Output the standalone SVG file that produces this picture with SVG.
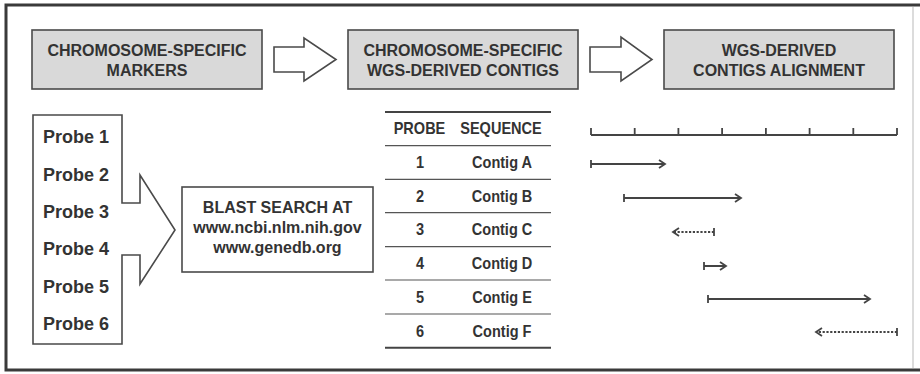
<svg xmlns="http://www.w3.org/2000/svg" width="920" height="374" viewBox="0 0 920 374">
<style>
.frame{fill:none;stroke:#3a3a3a;stroke-width:3}
.hbox{fill:#d9d9d9;stroke:#4a4a4a;stroke-width:1.6}
.wbox{fill:#fff;stroke:#4a4a4a;stroke-width:1.6}
.t{font-family:"Liberation Sans",Arial,sans-serif;font-weight:bold;fill:#333;text-anchor:middle}
.h{font-size:16px}
.p{font-size:18px;text-anchor:start}
.b{font-size:16px}
.tb{font-size:16.5px}
.rule{stroke:#555;stroke-width:1.2}
.rule2{stroke:#444;stroke-width:2}
.ln{fill:none;stroke:#444;stroke-width:1.8}
.dash{fill:none;stroke:#444;stroke-width:1.8;stroke-dasharray:2.2 1.6}
.head{fill:none;stroke:#444;stroke-width:1.8;stroke-linejoin:miter}
</style>
<rect x="0" y="0" width="920" height="374" fill="#fff"/>
<path class="frame" d="M920,5 H6 V370 H920"/>
<line x1="913" y1="7" x2="913" y2="368" stroke="#d0d0d0" stroke-width="1.5"/>

<g id="markers">
<rect class="hbox" x="32" y="30" width="230" height="59"/>
<text class="t h" x="147" y="56">CHROMOSOME-SPECIFIC</text>
<text class="t h" x="147" y="76">MARKERS</text>
</g>
<g id="contigs">
<rect class="hbox" x="348" y="30" width="230" height="59"/>
<text class="t h" x="463" y="56">CHROMOSOME-SPECIFIC</text>
<text class="t h" x="463" y="76">WGS-DERIVED CONTIGS</text>
</g>
<g id="alignment-title">
<rect class="hbox" x="664" y="30" width="230" height="59"/>
<text class="t h" x="779" y="56">WGS-DERIVED</text>
<text class="t h" x="779" y="76">CONTIGS ALIGNMENT</text>
</g>

<g id="connectors">
<path class="wbox" d="M274,47 H304 V38 L336,59.5 L304,81 V72 H274 Z"/>
<path class="wbox" d="M590,47 H621 V37 L652,59.5 L621,81 V72 H590 Z"/>
</g>

<g id="probes">
<path class="wbox" d="M122,203 V115 H33 V344 H122 V255 H140 V284 L175,230 L140,175 V203 Z"/>
<text class="t p" x="43" y="143">Probe 1</text>
<text class="t p" x="43" y="180.5">Probe 2</text>
<text class="t p" x="43" y="218">Probe 3</text>
<text class="t p" x="43" y="255">Probe 4</text>
<text class="t p" x="43" y="292.5">Probe 5</text>
<text class="t p" x="43" y="330">Probe 6</text>
</g>

<g id="blast">
<rect class="wbox" x="182" y="187" width="191" height="85"/>
<text class="t b" x="277.5" y="213">BLAST SEARCH AT</text>
<text class="t b" x="277.5" y="233">www.ncbi.nlm.nih.gov</text>
<text class="t b" x="277.5" y="253">www.genedb.org</text>
</g>

<g id="table">
<line class="rule2" x1="385" y1="112" x2="551" y2="112"/>
<line class="rule" x1="385" y1="145.7" x2="551" y2="145.7"/>
<line class="rule" x1="385" y1="179.3" x2="551" y2="179.3"/>
<line class="rule" x1="385" y1="212.7" x2="551" y2="212.7"/>
<line class="rule" x1="385" y1="246.7" x2="551" y2="246.7"/>
<line class="rule" x1="385" y1="280" x2="551" y2="280"/>
<line class="rule" x1="385" y1="314" x2="551" y2="314"/>
<line class="rule2" x1="385" y1="347.7" x2="551" y2="347.7"/>
<g transform="scale(0.88 1)">
<text class="t tb" x="476.7" y="134.5">PROBE</text>
<text class="t tb" x="569.3" y="134.5">SEQUENCE</text>
<text class="t tb" x="477.3" y="168.5">1</text>
<text class="t tb" x="570.5" y="168.5">Contig A</text>
<text class="t tb" x="477.3" y="202">2</text>
<text class="t tb" x="570.5" y="202">Contig B</text>
<text class="t tb" x="477.3" y="235.5">3</text>
<text class="t tb" x="570.5" y="235.5">Contig C</text>
<text class="t tb" x="477.3" y="269.5">4</text>
<text class="t tb" x="570.5" y="269.5">Contig D</text>
<text class="t tb" x="477.3" y="303">5</text>
<text class="t tb" x="570.5" y="303">Contig E</text>
<text class="t tb" x="477.3" y="337">6</text>
<text class="t tb" x="570.5" y="337">Contig F</text>
</g>
</g>

<g id="ruler">
<path class="ln" d="M591,135 H897 M591,128 V135 M634.7,128 V135 M678.4,128 V135 M722.1,128 V135 M765.9,128 V135 M809.6,128 V135 M853.3,128 V135 M897,128 V135"/>
</g>

<g id="contig-arrows">
<path class="ln" d="M591,164 H665 M591,160 V168"/>
<polyline class="head" points="659,160 665,164 659,168"/>
<path class="ln" d="M624,198 H741 M624,194 V202"/>
<polyline class="head" points="735,194 741,198 735,202"/>
<path class="dash" d="M714,232 H674"/>
<path class="ln" d="M714,228 V236"/>
<polyline class="head" points="679,228 673,232 679,236"/>
<path class="ln" d="M704,266 H726 M704,262 V270"/>
<polyline class="head" points="720,262 726,266 720,270"/>
<path class="ln" d="M708,299 H870 M708,295 V303"/>
<polyline class="head" points="864,295 870,299 864,303"/>
<path class="dash" d="M897,332 H817"/>
<path class="ln" d="M897,328 V336"/>
<polyline class="head" points="822,328 816,332 822,336"/>
</g>
</svg>
